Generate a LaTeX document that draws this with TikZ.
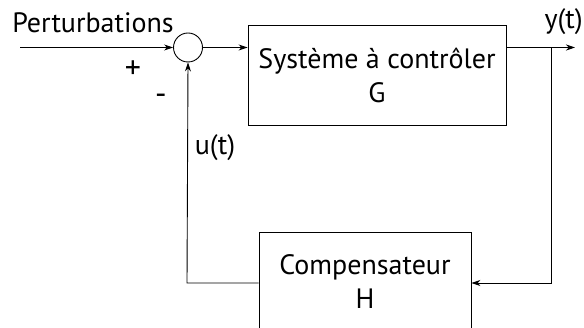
\documentclass[tikz,border=0pt]{standalone}
\usepackage{fontspec}
\setmainfont{PT Sans}
\usetikzlibrary{arrows.meta}
\begin{document}
\begin{tikzpicture}[x=1pt,y=-1pt,
  txt/.style={font=\fontsize{28}{34}\selectfont, inner sep=0pt},
  sign/.style={font=\fontsize{32}{34}\selectfont, inner sep=0pt},
  blockbox/.style={draw, line width=0.9pt, align=center, font=\fontsize{28}{34}\selectfont, inner sep=0pt},
  conn/.style={line width=0.9pt},
  arr/.style={conn, -{Stealth[length=9pt,width=6pt]}}]
\useasboundingbox (0,0) rectangle (584,328);
\clip (0,0) rectangle (584,328);
\node[circle, draw, line width=0.9pt, minimum size=29pt, inner sep=0pt] (sum) at (188,47.5) {};
\coordinate (in) at (20,47.5);
\node[blockbox, minimum width=258pt, minimum height=100pt] (G) at (377,75) {Système à contrôler\\G};
\node[blockbox, minimum width=212pt, minimum height=100pt] (H) at (365,282) {Compensateur\\H};
\coordinate (branch) at (551,47.5);
\coordinate (out) at (575,47.5);
\coordinate (br2) at (551,283);
\coordinate (hl) at (H.west |- br2);
\coordinate (fb) at (187,283);
\node[txt] (pert) at (93,23) {Perturbations};
\node[sign] (plus) at (133,70) {+};
\node[sign] (minus) at (161,99) {-};
\node[txt] (u) at (215,148) {u(t)};
\node[txt, anchor=east] (y) at (583,22) {y(t)};
\draw[arr] (in) -- (sum.west);
\draw[arr] (sum.east) -- (G.west |- sum.east);
\draw[arr] (G.east |- branch) -- (out);
\draw[arr] (branch) -- (br2) -- (H.east |- br2);
\draw[arr] (hl) -- (fb) -- (sum.south);
\end{tikzpicture}
\end{document}
